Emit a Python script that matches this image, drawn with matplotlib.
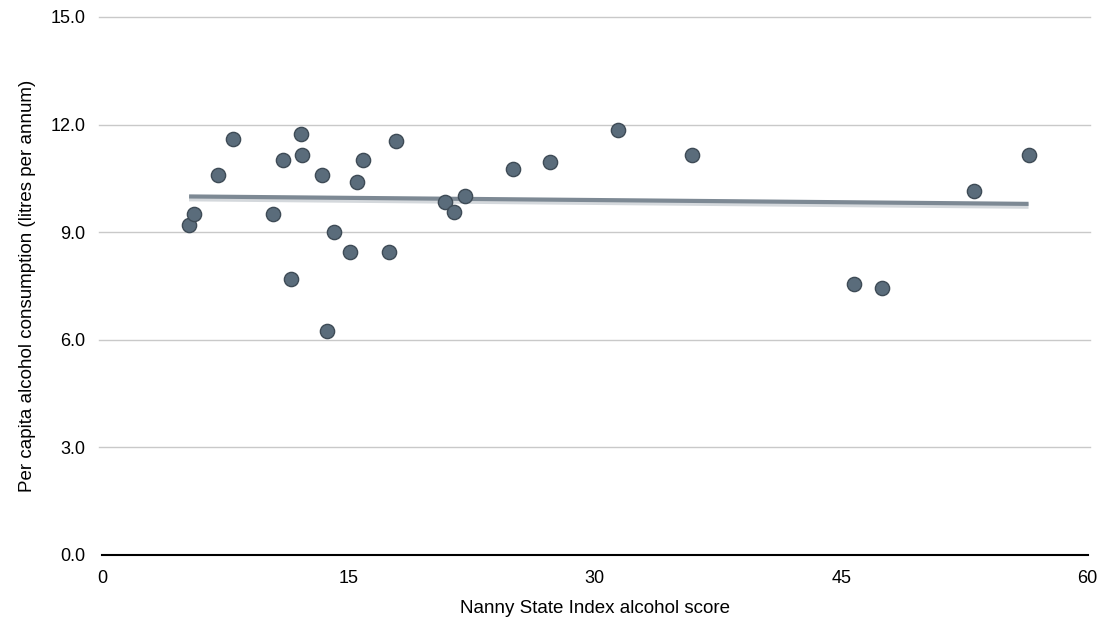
import matplotlib.pyplot as plt
import numpy as np

plt.rcParams['font.family'] = ['Liberation Sans', 'DejaVu Sans']

# Nanny State Index alcohol score vs per capita alcohol consumption
nanny_score = [5.3, 5.6, 7.05, 8.0, 10.4, 11.0, 11.5, 12.1, 12.2, 13.4,
               13.7, 14.1, 15.1, 15.5, 15.9, 17.5, 17.9, 20.9, 21.4, 22.1,
               25.0, 27.3, 31.4, 35.9, 45.8, 47.5, 53.1, 56.4]
consumption = [9.2, 9.5, 10.6, 11.6, 9.5, 11.0, 7.7, 11.75, 11.15, 10.6,
               6.25, 9.0, 8.45, 10.4, 11.0, 8.45, 11.55, 9.85, 9.55, 10.0,
               10.75, 10.95, 11.85, 11.15, 7.55, 7.45, 10.15, 11.15]

x_ticks = [0, 15, 30, 45, 60]
y_ticks = [0, 3, 6, 9, 12, 15]

fig = plt.figure(figsize=(11.1, 6.39), dpi=100)
ax = fig.add_axes([0.0919, 0.1315, 0.888, 0.8419])

x = np.array(nanny_score)
y = np.array(consumption)

# trend line
z = np.polyfit(x, y, 1)
p = np.poly1d(z)
xs = np.array([x.min(), x.max()])
ax.plot(xs, p(xs) - 0.06, color='#d4d8dc', lw=4, solid_capstyle='butt', zorder=2)
ax.plot(xs, p(xs), color='#7d8994', lw=3, solid_capstyle='butt', zorder=3)

ax.scatter(x, y, s=105, color='#5a6c7b', edgecolors='#3e4b56', linewidths=1, zorder=4)

ax.set_xlim(0, 60)
ax.set_ylim(0, 15)
ax.set_xticks(x_ticks)
ax.set_yticks(y_ticks)
ax.set_yticklabels(['%.1f' % v for v in y_ticks])

for v in y_ticks[1:]:
    ax.axhline(v, color='#c9c9c9', lw=1, zorder=1, xmin=-0.003, xmax=1.002, clip_on=False)

for s in ['top', 'right', 'left']:
    ax.spines[s].set_visible(False)
ax.spines['bottom'].set_color('black')
ax.spines['bottom'].set_linewidth(1.5)

ax.tick_params(axis='both', length=0, labelsize=13, colors='black')
ax.tick_params(axis='x', pad=11)
ax.tick_params(axis='y', pad=12)

ax.set_xlabel('Nanny State Index alcohol score', fontsize=13.5, labelpad=9)
ax.set_ylabel('Per capita alcohol consumption (litres per annum)', fontsize=13.5, labelpad=10)

plt.savefig('out.png', dpi=100)
